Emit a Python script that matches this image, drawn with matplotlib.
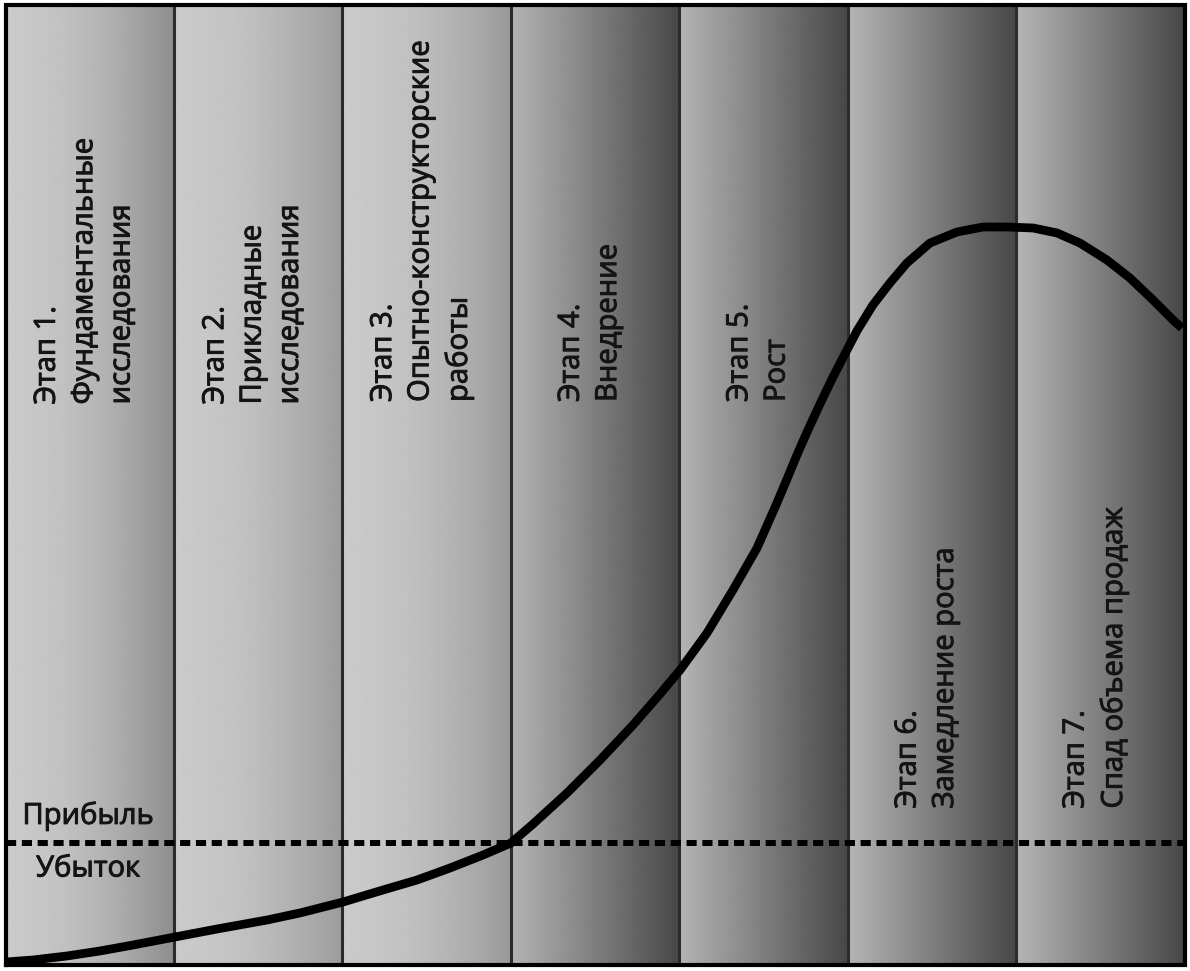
import numpy as np
import matplotlib
matplotlib.use("Agg")
import matplotlib.pyplot as plt
import matplotlib.patheffects as pe

plt.rcParams['font.family'] = ['Open Sans', 'DejaVu Sans']

# ---- data ----
stage_labels = [
    "Этап 1.\nФундаментальные\nисследования",
    "Этап 2.\nПрикладные\nисследования",
    "Этап 3.\nОпытно-конструкторские\nработы",
    "Этап 4.\nВнедрение",
    "Этап 5.\nРост",
    "Этап 6.\nЗамедление роста",
    "Этап 7.\nСпад объема продаж",
]
label_base_y = [71.2, 71.2, 71.6, 71.6, 71.6, 5.6, 5.6]   # where rotated text starts (y units)

curve_x = [0.0, 0.163, 0.365, 0.561, 0.757, 1.006, 1.256, 1.553, 1.748, 2.004, 2.241,
           2.443, 2.639, 2.835, 3.001, 3.132, 3.334, 3.53, 3.726, 3.886, 4.005, 4.165,
           4.319, 4.462, 4.58, 4.64, 4.699, 4.759, 4.836, 4.913, 4.996, 5.055, 5.15,
           5.251, 5.352, 5.489, 5.649, 5.804, 5.946, 6.101, 6.243, 6.379, 6.54, 6.676,
           6.813, 6.932, 6.985]
curve_y = [-19.32, -18.99, -18.34, -17.53, -16.56, -15.26, -13.96, -12.5, -11.36, -9.58, -7.63,
           -6.01, -4.06, -1.95, 0.0, 3.08, 8.12, 13.47, 19.16, 24.19, 28.08, 34.09,
           41.07, 47.89, 55.19, 59.09, 62.99, 66.72, 71.27, 75.65, 80.03, 83.12, 87.34,
           90.91, 94.16, 97.4, 99.19, 100.0, 100.0, 99.84, 99.03, 97.4, 94.64, 91.72,
           88.15, 84.9, 83.6]

profit_level = 0.0
profit_text = "Прибыль"
loss_text = "Убыток"

band_left_gray = [0.79, 0.79, 0.79, 0.71, 0.71, 0.71, 0.71]
band_right_gray = [0.55, 0.61, 0.60, 0.28, 0.28, 0.28, 0.28]
band_power = [1.8, 1.8, 1.8, 1.0, 1.0, 1.0, 1.0]

# ---- figure ----
W, H = 1190, 971
fig = plt.figure(figsize=(W / 100, H / 100), dpi=100)
ax = fig.add_axes([0, 0, 1, 1])
xu = 168.43   # px per x unit
yu = 6.16     # px per y unit
x0px, y0px = 5.5, 843.0
ax.set_xlim(-x0px / xu, (W - x0px) / xu)
ax.set_ylim(-(H - y0px) / yu, y0px / yu)
ax.axis('off')

top = (y0px - 5) / yu
bottom = -(965 - y0px) / yu

FS = 21
TXT = '#141414'
thick = [pe.withStroke(linewidth=0.7, foreground=TXT)]
n = len(stage_labels)
for i in range(n):
    t = np.linspace(0, 1, 256) ** band_power[i]
    g = band_left_gray[i] + (band_right_gray[i] - band_left_gray[i]) * t
    ax.imshow(g[np.newaxis, :], cmap='gray', vmin=0, vmax=1, aspect='auto',
              extent=[i, i + 1, bottom, top], interpolation='bilinear', zorder=1)
    ax.text(i + 0.47, label_base_y[i], stage_labels[i], rotation=90, ha='center', va='bottom',
            multialignment='left', fontsize=FS, color=TXT,
            linespacing=1.38, zorder=3, path_effects=thick)

for i in range(1, n):
    ax.plot([i, i], [bottom, top], color='#2b2b2b', lw=2.2, zorder=2, solid_capstyle='butt')

ax.plot([0, n, n, 0, 0], [bottom, bottom, top, top, bottom], color='black', lw=3,
        zorder=6, solid_joinstyle='miter')

ax.plot([0, n], [profit_level, profit_level], color='black', lw=4.3,
        linestyle=(0, (1.7, 0.95)), dash_capstyle='butt', zorder=4)

ax.text(0.49, (y0px - 816) / yu, profit_text, ha='center', va='center', fontsize=FS,
        color=TXT, zorder=3, path_effects=thick)
ax.text(0.49, (y0px - 869) / yu, loss_text, ha='center', va='center', fontsize=FS,
        color=TXT, zorder=3, path_effects=thick)

ax.plot(curve_x, curve_y, color='black', lw=6.3, solid_capstyle='butt', solid_joinstyle='round', zorder=5)

fig.savefig('out.png', dpi=100, facecolor='white')
